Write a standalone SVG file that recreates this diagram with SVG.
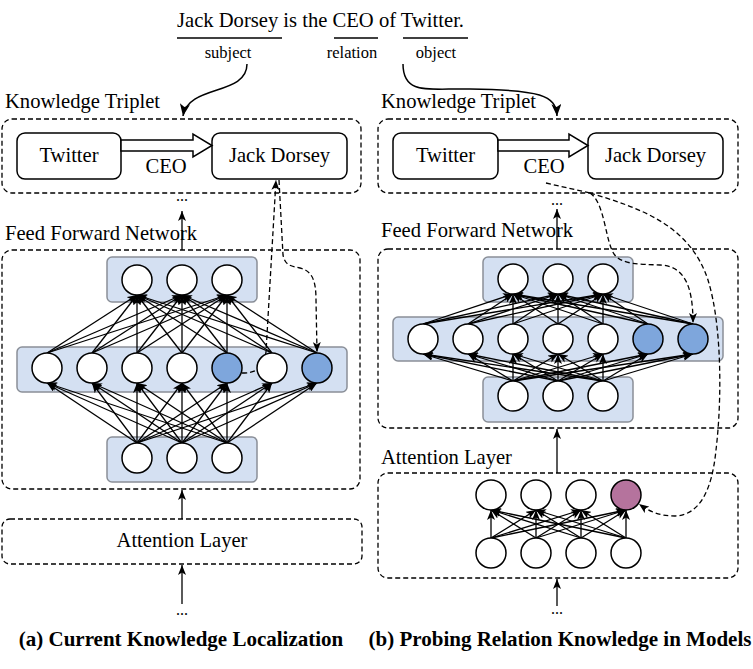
<svg xmlns="http://www.w3.org/2000/svg" width="753" height="669" viewBox="0 0 753 669">
<style>
text{font-family:"Liberation Serif","Times New Roman",serif;fill:#000}
.t20{font-size:20.6px}
.lab{font-size:16.5px;text-anchor:middle}
.cap{font-size:21px;font-weight:bold;text-anchor:middle}
.dbox{fill:none;stroke:#000;stroke-width:1.3;stroke-dasharray:5,3}
.box{fill:#fff;stroke:#000;stroke-width:1.5}
.bar{fill:#d4e0f2;stroke:#8a8f98;stroke-width:1.5}
.n{fill:#fff;stroke:#000;stroke-width:1.5}
.nb{fill:#7ea6dc;stroke:#000;stroke-width:1.5}
.np{fill:#b5739d;stroke:#000;stroke-width:1.5}
.e{stroke:#000;stroke-width:1.3;marker-end:url(#ah)}
.a{stroke:#000;stroke-width:1.5;fill:none;marker-end:url(#ah2)}
.d{stroke:#000;stroke-width:1.3;fill:none;stroke-dasharray:5,3}
.dm{marker-end:url(#ah)}
.hollow{fill:#fff;stroke:#000;stroke-width:1.5}
</style>
<defs>
<marker id="ah" markerWidth="10" markerHeight="8" refX="10" refY="4" orient="auto" markerUnits="userSpaceOnUse"><path d="M0,0 L10,4 L0,8 L2.5,4 Z" fill="#000"/></marker>
<marker id="ah2" markerWidth="12" markerHeight="10" refX="12" refY="5" orient="auto" markerUnits="userSpaceOnUse"><path d="M0,0 L12,5 L0,10 L3,5 Z" fill="#000"/></marker>
</defs>

<!-- sentence -->
<g id="sentence">
<text x="177" y="27" style="font-size:20.6px">Jack Dorsey is the CEO of Twitter.</text>
<line x1="177" y1="38" x2="282" y2="38" stroke="#000" stroke-width="1.5"/>
<line x1="334" y1="38" x2="378" y2="38" stroke="#000" stroke-width="1.5"/>
<line x1="403" y1="38" x2="468" y2="38" stroke="#000" stroke-width="1.5"/>
<text class="lab" x="228" y="58">subject</text>
<text class="lab" x="352" y="58">relation</text>
<text class="lab" x="436" y="58">object</text>
</g>

<!-- ===== Panel A ===== -->
<g id="a-triplet">
<text class="t20" x="5" y="108">Knowledge Triplet</text>
<rect class="dbox" x="2" y="119" width="359" height="74" rx="10"/>
</g>
<g id="a-twitter"><rect class="box" x="17" y="133" width="104" height="46" rx="8"/><text class="t20" x="69" y="162" text-anchor="middle">Twitter</text></g>
<g id="a-jack"><rect class="box" x="212" y="133" width="135" height="46" rx="8"/><text class="t20" x="279.5" y="162" text-anchor="middle">Jack Dorsey</text></g>
<g id="a-ceo"><polygon class="hollow" points="121,140 193,140 193,134 212,145.5 193,157 193,151 121,151"/><text class="t20" x="166" y="173" text-anchor="middle">CEO</text></g>
<text x="182" y="201" text-anchor="middle" style="font-size:16px">...</text>

<g id="a-ffn">
<text class="t20" x="5" y="240">Feed Forward Network</text>
<rect class="dbox" x="2" y="250" width="358" height="239" rx="10"/>
<rect class="bar" x="107" y="257" width="150" height="45" rx="5"/>
<rect class="bar" x="17" y="347" width="330" height="45" rx="5"/>
<rect class="bar" x="107" y="437" width="150" height="45" rx="5"/>
</g>
<g id="a-att"><rect class="dbox" x="2" y="519" width="360" height="45" rx="8"/><text class="t20" x="182" y="547" text-anchor="middle">Attention Layer</text></g>
<text x="182" y="615" text-anchor="middle" style="font-size:16px">...</text>
<text class="cap" x="181" y="646">(a) Current Knowledge Localization</text>

<!-- ===== Panel B ===== -->
<g id="b-triplet">
<text class="t20" x="381" y="108">Knowledge Triplet</text>
<rect class="dbox" x="378" y="119" width="360" height="74" rx="10"/>
</g>
<g id="b-twitter"><rect class="box" x="393" y="133" width="105" height="46" rx="8"/><text class="t20" x="445.5" y="162" text-anchor="middle">Twitter</text></g>
<g id="b-jack"><rect class="box" x="588" y="133" width="135" height="46" rx="8"/><text class="t20" x="655.5" y="162" text-anchor="middle">Jack Dorsey</text></g>
<g id="b-ceo"><polygon class="hollow" points="498,140 569,140 569,134 588,145.5 569,157 569,151 498,151"/><text class="t20" x="544" y="173" text-anchor="middle">CEO</text></g>
<text x="557" y="205" text-anchor="middle" style="font-size:16px">...</text>

<g id="b-ffn">
<text class="t20" x="381" y="237">Feed Forward Network</text>
<rect class="dbox" x="378" y="249" width="360" height="179" rx="10"/>
<rect class="bar" x="483" y="257" width="150" height="45" rx="5"/>
<rect class="bar" x="393" y="317" width="330" height="44" rx="5"/>
<rect class="bar" x="483" y="377" width="150" height="45" rx="5"/>
</g>
<g id="b-att">
<text class="t20" x="381" y="464">Attention Layer</text>
<rect class="dbox" x="378" y="473" width="360" height="105" rx="10"/>
</g>
<text x="557" y="614" text-anchor="middle" style="font-size:16px">...</text>
<text class="cap" x="560" y="646">(b) Probing Relation Knowledge in Models</text>

<!-- ===== connectors ===== -->
<g id="connectors">
<path class="a" d="M247,64 C247,96 188,84 183,116"/>
<path class="a" d="M403,64 C403,96 430,88 470,89 C540,90 556,95 557,116"/>
<line class="e" x1="182" y1="250" x2="182" y2="211"/>
<line class="e" x1="182" y1="519" x2="182" y2="490"/>
<line class="e" x1="182" y1="604" x2="182" y2="565"/>
<line class="e" x1="557" y1="249" x2="557" y2="209"/>
<line class="e" x1="557" y1="473" x2="557" y2="429"/>
<line class="e" x1="557" y1="606" x2="557" y2="579"/>

<!-- A: middle -> top -->
<line class="e" x1="47" y1="353" x2="137" y2="295"/><line class="e" x1="47" y1="353" x2="182" y2="295"/><line class="e" x1="47" y1="353" x2="227" y2="295"/>
<line class="e" x1="92" y1="353" x2="137" y2="295"/><line class="e" x1="92" y1="353" x2="182" y2="295"/><line class="e" x1="92" y1="353" x2="227" y2="295"/>
<line class="e" x1="137" y1="353" x2="137" y2="295"/><line class="e" x1="137" y1="353" x2="182" y2="295"/><line class="e" x1="137" y1="353" x2="227" y2="295"/>
<line class="e" x1="182" y1="353" x2="137" y2="295"/><line class="e" x1="182" y1="353" x2="182" y2="295"/><line class="e" x1="182" y1="353" x2="227" y2="295"/>
<line class="e" x1="227" y1="353" x2="137" y2="295"/><line class="e" x1="227" y1="353" x2="182" y2="295"/><line class="e" x1="227" y1="353" x2="227" y2="295"/>
<line class="e" x1="272" y1="353" x2="137" y2="295"/><line class="e" x1="272" y1="353" x2="182" y2="295"/><line class="e" x1="272" y1="353" x2="227" y2="295"/>
<line class="e" x1="317" y1="353" x2="137" y2="295"/><line class="e" x1="317" y1="353" x2="182" y2="295"/><line class="e" x1="317" y1="353" x2="227" y2="295"/>
<!-- A: bottom -> middle -->
<line class="e" x1="137" y1="443" x2="47" y2="383"/><line class="e" x1="137" y1="443" x2="92" y2="383"/><line class="e" x1="137" y1="443" x2="137" y2="383"/><line class="e" x1="137" y1="443" x2="182" y2="383"/><line class="e" x1="137" y1="443" x2="227" y2="383"/><line class="e" x1="137" y1="443" x2="272" y2="383"/><line class="e" x1="137" y1="443" x2="317" y2="383"/>
<line class="e" x1="182" y1="443" x2="47" y2="383"/><line class="e" x1="182" y1="443" x2="92" y2="383"/><line class="e" x1="182" y1="443" x2="137" y2="383"/><line class="e" x1="182" y1="443" x2="182" y2="383"/><line class="e" x1="182" y1="443" x2="227" y2="383"/><line class="e" x1="182" y1="443" x2="272" y2="383"/><line class="e" x1="182" y1="443" x2="317" y2="383"/>
<line class="e" x1="227" y1="443" x2="47" y2="383"/><line class="e" x1="227" y1="443" x2="92" y2="383"/><line class="e" x1="227" y1="443" x2="137" y2="383"/><line class="e" x1="227" y1="443" x2="182" y2="383"/><line class="e" x1="227" y1="443" x2="227" y2="383"/><line class="e" x1="227" y1="443" x2="272" y2="383"/><line class="e" x1="227" y1="443" x2="317" y2="383"/>

<!-- B: middle -> top -->
<line class="e" x1="423" y1="324" x2="513" y2="294"/><line class="e" x1="423" y1="324" x2="558" y2="294"/><line class="e" x1="423" y1="324" x2="603" y2="294"/>
<line class="e" x1="468" y1="324" x2="513" y2="294"/><line class="e" x1="468" y1="324" x2="558" y2="294"/><line class="e" x1="468" y1="324" x2="603" y2="294"/>
<line class="e" x1="513" y1="324" x2="513" y2="294"/><line class="e" x1="513" y1="324" x2="558" y2="294"/><line class="e" x1="513" y1="324" x2="603" y2="294"/>
<line class="e" x1="558" y1="324" x2="513" y2="294"/><line class="e" x1="558" y1="324" x2="558" y2="294"/><line class="e" x1="558" y1="324" x2="603" y2="294"/>
<line class="e" x1="603" y1="324" x2="513" y2="294"/><line class="e" x1="603" y1="324" x2="558" y2="294"/><line class="e" x1="603" y1="324" x2="603" y2="294"/>
<line class="e" x1="648" y1="324" x2="513" y2="294"/><line class="e" x1="648" y1="324" x2="558" y2="294"/><line class="e" x1="648" y1="324" x2="603" y2="294"/>
<line class="e" x1="693" y1="324" x2="513" y2="294"/><line class="e" x1="693" y1="324" x2="558" y2="294"/><line class="e" x1="693" y1="324" x2="603" y2="294"/>
<!-- B: bottom -> middle -->
<line class="e" x1="513" y1="381" x2="423" y2="354"/><line class="e" x1="513" y1="381" x2="468" y2="354"/><line class="e" x1="513" y1="381" x2="513" y2="354"/><line class="e" x1="513" y1="381" x2="558" y2="354"/><line class="e" x1="513" y1="381" x2="603" y2="354"/><line class="e" x1="513" y1="381" x2="648" y2="354"/><line class="e" x1="513" y1="381" x2="693" y2="354"/>
<line class="e" x1="558" y1="381" x2="423" y2="354"/><line class="e" x1="558" y1="381" x2="468" y2="354"/><line class="e" x1="558" y1="381" x2="513" y2="354"/><line class="e" x1="558" y1="381" x2="558" y2="354"/><line class="e" x1="558" y1="381" x2="603" y2="354"/><line class="e" x1="558" y1="381" x2="648" y2="354"/><line class="e" x1="558" y1="381" x2="693" y2="354"/>
<line class="e" x1="603" y1="381" x2="423" y2="354"/><line class="e" x1="603" y1="381" x2="468" y2="354"/><line class="e" x1="603" y1="381" x2="513" y2="354"/><line class="e" x1="603" y1="381" x2="558" y2="354"/><line class="e" x1="603" y1="381" x2="603" y2="354"/><line class="e" x1="603" y1="381" x2="648" y2="354"/><line class="e" x1="603" y1="381" x2="693" y2="354"/>

<!-- B: attention bottom -> top -->
<line class="e" x1="491" y1="538" x2="491" y2="510"/><line class="e" x1="491" y1="538" x2="536" y2="510"/><line class="e" x1="491" y1="538" x2="581" y2="510"/><line class="e" x1="491" y1="538" x2="626" y2="510"/>
<line class="e" x1="536" y1="538" x2="491" y2="510"/><line class="e" x1="536" y1="538" x2="536" y2="510"/><line class="e" x1="536" y1="538" x2="581" y2="510"/><line class="e" x1="536" y1="538" x2="626" y2="510"/>
<line class="e" x1="581" y1="538" x2="491" y2="510"/><line class="e" x1="581" y1="538" x2="536" y2="510"/><line class="e" x1="581" y1="538" x2="581" y2="510"/><line class="e" x1="581" y1="538" x2="626" y2="510"/>
<line class="e" x1="626" y1="538" x2="491" y2="510"/><line class="e" x1="626" y1="538" x2="536" y2="510"/><line class="e" x1="626" y1="538" x2="581" y2="510"/><line class="e" x1="626" y1="538" x2="626" y2="510"/>

<!-- dashed knowledge connectors -->
<path class="d dm" d="M242,373 C255,373 263,370 266,352 L276,180"/>
<path class="d dm" d="M279,180 L283,255 C285,265 290,266 300,268 C312,271 316,280 316,300 L317,352"/>
<path class="d" d="M546,183 L590,193"/>
<path class="d dm" d="M590,193 C605,203 605,240 614,254 C622,265 640,264 660,265 C684,266 693,285 693,323"/>
<path class="d dm" d="M590,193 C640,208 690,225 708,280 C722,325 722,400 716,450 C712,490 700,515 675,516 C660,516 650,512 639,504"/>
</g>

<!-- ===== nodes ===== -->
<g id="a-top-nodes"><circle class="n" cx="137" cy="280" r="15"/><circle class="n" cx="182" cy="280" r="15"/><circle class="n" cx="227" cy="280" r="15"/></g>
<g id="a-mid-nodes"><circle class="n" cx="47" cy="368" r="15"/><circle class="n" cx="92" cy="368" r="15"/><circle class="n" cx="137" cy="368" r="15"/><circle class="n" cx="182" cy="368" r="15"/><circle class="nb" cx="227" cy="368" r="15"/><circle class="n" cx="272" cy="368" r="15"/><circle class="nb" cx="317" cy="368" r="15"/></g>
<g id="a-bot-nodes"><circle class="n" cx="137" cy="458" r="15"/><circle class="n" cx="182" cy="458" r="15"/><circle class="n" cx="227" cy="458" r="15"/></g>

<g id="b-top-nodes"><circle class="n" cx="513" cy="279" r="15"/><circle class="n" cx="558" cy="279" r="15"/><circle class="n" cx="603" cy="279" r="15"/></g>
<g id="b-mid-nodes"><circle class="n" cx="423" cy="339" r="15"/><circle class="n" cx="468" cy="339" r="15"/><circle class="n" cx="513" cy="339" r="15"/><circle class="n" cx="558" cy="339" r="15"/><circle class="n" cx="603" cy="339" r="15"/><circle class="nb" cx="648" cy="339" r="15"/><circle class="nb" cx="693" cy="339" r="15"/></g>
<g id="b-bot-nodes"><circle class="n" cx="513" cy="396" r="15"/><circle class="n" cx="558" cy="396" r="15"/><circle class="n" cx="603" cy="396" r="15"/></g>
<g id="b-att-top"><circle class="n" cx="491" cy="495" r="15"/><circle class="n" cx="536" cy="495" r="15"/><circle class="n" cx="581" cy="495" r="15"/><circle class="np" cx="626" cy="495" r="15"/></g>
<g id="b-att-bot"><circle class="n" cx="491" cy="553" r="15"/><circle class="n" cx="536" cy="553" r="15"/><circle class="n" cx="581" cy="553" r="15"/><circle class="n" cx="626" cy="553" r="15"/></g>
</svg>
